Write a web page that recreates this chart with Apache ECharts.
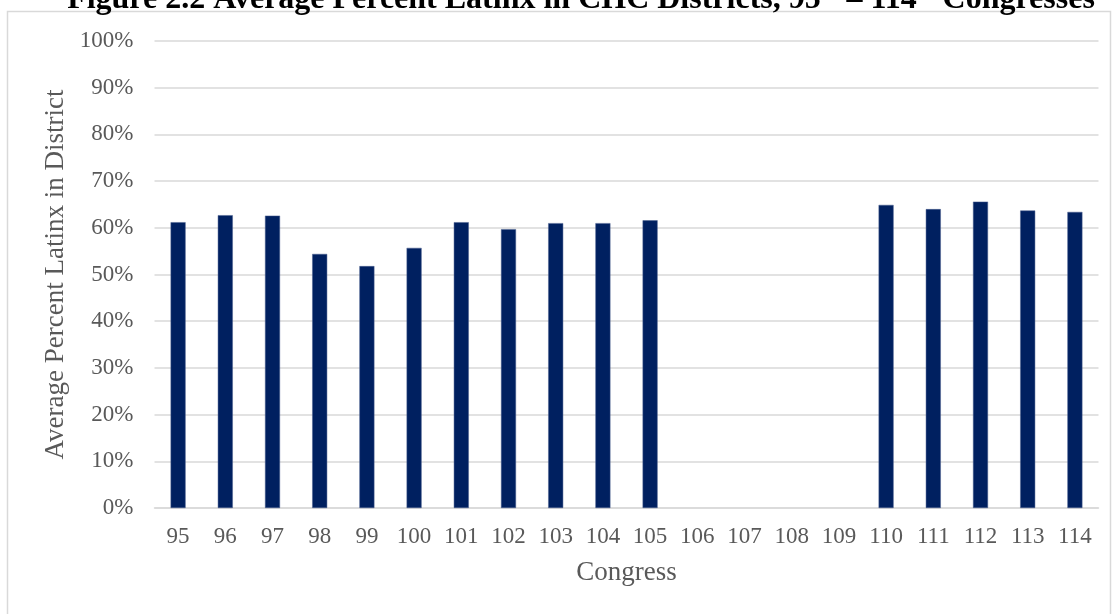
<!DOCTYPE html>
<html>
<head>
<meta charset="utf-8">
<style>
  html, body { margin: 0; padding: 0; background: #ffffff; }
  #chart { width: 1120px; height: 614px; }
</style>
<script src="https://cdn.jsdelivr.net/npm/echarts@6/dist/echarts.min.js"></script>
</head>
<body>
<div id="chart"></div>
<script>
// Congress numbers along the x axis
const congresses = ['95', '96', '97', '98', '99', '100', '101', '102', '103', '104',
  '105', '106', '107', '108', '109', '110', '111', '112', '113', '114'];

// Average percent Latinx in CHC districts (null = no data for that Congress)
const avgPercentLatinx = [61.2, 62.7, 62.6, 54.4, 51.8, 55.7, 61.2, 59.7, 61.0, 61.0,
  61.6, null, null, null, null, 64.9, 64.0, 65.6, 63.7, 63.4];

const yTicksMax = 100;
const yTickStep = 10;

const serif = '"Liberation Serif", "Times New Roman", serif';
const labelGray = '#595959';
const gridGray = '#d9d9d9';
const barNavy = '#002060';

const chart = echarts.init(document.getElementById('chart'), null, { renderer: 'canvas' });

chart.setOption({
  animation: false,
  backgroundColor: '#ffffff',
  title: {
    text: 'Figure 2.2 Average Percent Latinx in CHC Districts, 95{sup|th} – 114{sup|th} Congresses',
    left: 576,
    textAlign: 'center',
    top: -22,
    textStyle: {
      fontFamily: serif,
      fontWeight: 'bold',
      fontSize: 32,
      color: '#000000',
      rich: {
        sup: {
          fontFamily: serif,
          fontWeight: 'bold',
          fontSize: 20,
          color: '#000000',
          verticalAlign: 'top',
          padding: [0, 0, 14, 0]
        }
      }
    }
  },
  graphic: [{
    type: 'rect',
    z: -1,
    shape: { x: 7.5, y: 11.5, width: 1103, height: 620 },
    style: { fill: 'none', stroke: gridGray, lineWidth: 1.5 }
  }],
  grid: {
    left: 154.5,
    right: 21.5,
    top: 41,
    bottom: 106,
    containLabel: false
  },
  xAxis: {
    type: 'category',
    data: congresses,
    name: 'Congress',
    nameLocation: 'middle',
    nameGap: 51,
    nameTextStyle: { fontFamily: serif, fontSize: 27, color: labelGray },
    axisLine: { show: true, lineStyle: { color: gridGray, width: 1.5 } },
    axisTick: { show: false },
    axisLabel: {
      fontFamily: serif,
      fontSize: 23,
      color: labelGray,
      margin: 17,
      interval: 0
    }
  },
  yAxis: {
    type: 'value',
    min: 0,
    max: yTicksMax,
    interval: yTickStep,
    name: 'Average Percent Latinx in District',
    nameLocation: 'middle',
    nameGap: 84,
    nameRotate: 90,
    nameTextStyle: { fontFamily: serif, fontSize: 27, color: labelGray },
    axisLine: { show: false },
    axisTick: { show: false },
    splitLine: { lineStyle: { color: gridGray, width: 1.5 } },
    axisLabel: {
      fontFamily: serif,
      fontSize: 23,
      color: labelGray,
      margin: 21,
      formatter: '{value}%'
    }
  },
  series: [{
    type: 'bar',
    data: avgPercentLatinx,
    barWidth: 15,
    itemStyle: { color: barNavy, borderColor: '#4a5f8f', borderWidth: 0.5 }
  }]
});
</script>
</body>
</html>
